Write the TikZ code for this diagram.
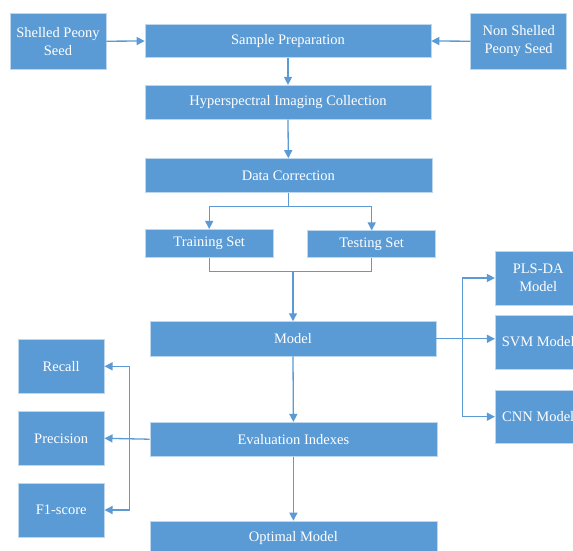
\documentclass[tikz,border=0pt]{standalone}
\usepackage{fontspec}
\setmainfont{Liberation Serif}
\usetikzlibrary{arrows.meta,calc}
\definecolor{boxblue}{HTML}{5B9BD5}
\tikzset{
  box/.style={fill=boxblue, draw=boxblue!40!white, line width=0.6pt, text=white, inner sep=0pt, align=center,
    font=\fontsize{14.5}{18}\selectfont},
  conn/.style={draw=boxblue, line width=1.3pt},
  arr/.style={conn, -{Triangle[length=8pt,width=8pt]}},
}
\begin{document}
\begin{tikzpicture}[x=1pt,y=1pt]
\useasboundingbox (0,0) rectangle (573,-550);
\clip (0,0) rectangle (573,-550);
\fill[white] (0,0) rectangle (573,-550);
% nodes
\node[box, minimum width=96pt, minimum height=56pt] (shelled) at (58,-41.2) {Shelled Peony\\Seed};
\node[box, minimum width=286pt, minimum height=33.5pt] (prep) at (288,-41) {Sample Preparation};
\node[box, minimum width=96pt, minimum height=56pt] (non) at (518.7,-41.2) {Non Shelled\\Peony Seed};
\node[box, minimum width=286pt, minimum height=34pt] (hyper) at (288,-102.2) {Hyperspectral Imaging Collection};
\node[box, minimum width=287pt, minimum height=34pt] (dc) at (288.3,-175.5) {Data Correction};
\node[box, minimum width=128pt, minimum height=28.5pt] (train) at (209.2,-243.5) {Training Set};
\node[box, minimum width=128pt, minimum height=27pt] (test) at (371.7,-244.2) {Testing Set};
\node[box, minimum width=286pt, minimum height=34.5pt] (model) at (293,-338.8) {Model};
\node[box, minimum width=86pt, minimum height=54pt] (pls) at (538.2,-278) {PLS-DA\\Model};
\node[box, minimum width=86pt, minimum height=54pt] (svm) at (538.2,-342) {SVM Model};
\node[box, minimum width=86pt, minimum height=53pt] (cnn) at (538.2,-416.7) {CNN Model};
\node[box, minimum width=86pt, minimum height=54pt] (recall) at (61.2,-366.3) {Recall};
\node[box, minimum width=86pt, minimum height=54pt] (prec) at (61.2,-438.3) {Precision};
\node[box, minimum width=86pt, minimum height=54pt] (f1) at (61.2,-510) {F1-score};
\node[box, minimum width=287pt, minimum height=34pt] (eval) at (293.4,-439.2) {Evaluation Indexes};
\node[box, minimum width=287pt, minimum height=34pt] (opt) at (293.4,-538) {Optimal Model};
% connectors
\draw[arr] (shelled.east) -- (prep.west);
\draw[arr] (non.west) -- (prep.east);
\draw[arr] (prep.south) -- (hyper.north);
\draw[arr] (hyper.south) -- (dc.north);
\coordinate (split) at ($(dc.south)+(0,-13.5)$);
\draw[conn] (dc.south) -- (split);
\draw[arr] (split) -| (train.north);
\draw[arr] (split) -| (test.north);
\coordinate (merge) at ($(train.south)+(0,-13.5)$);
\draw[conn] (train.south) -- (merge) -| (test.south);
\draw[arr] (merge -| model.north) -- (model.north);
\draw[arr] (model.east) -- (model.east -| svm.west);
\coordinate (rv) at (462.3,0);
\draw[arr] (rv |- model.east) |- (pls.west);
\draw[arr] (rv |- model.east) |- (cnn.west);
\draw[arr] (model.south) -- (eval.north);
\draw[arr] (eval.south) -- (opt.north);
\draw[arr] (eval.west) -- (prec.east);
\coordinate (lv) at (129.7,0);
\draw[arr] (lv |- prec.east) |- (recall.east);
\draw[arr] (lv |- prec.east) |- (f1.east);
\end{tikzpicture}
\end{document}
